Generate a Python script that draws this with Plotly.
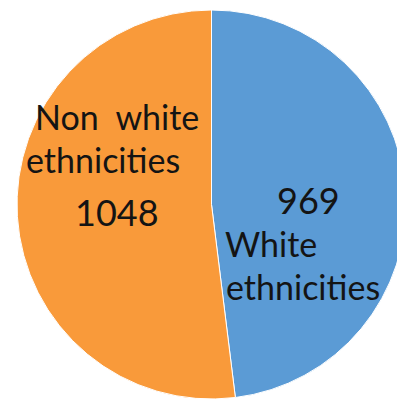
import plotly.graph_objects as go

# Data (plotly places the first slice clockwise from 12 o'clock)
labels = ["White ethnicities", "Non white ethnicities"]
values = [969, 1048]
colors = ["#5B9BD5", "#F99A3A"]

# Figure geometry (pixels)
W, H = 406, 399
ML, MR, MT, MB = 17, 0, 10, 0
PW, PH = W - ML - MR, H - MT - MB


def px(x):
    return (x - ML) / PW


def py(y):
    return (H - MB - y) / PH


fig = go.Figure(
    go.Pie(
        labels=labels,
        values=values,
        sort=False,
        direction="clockwise",
        rotation=0,
        marker=dict(colors=colors, line=dict(color="white", width=1)),
        textinfo="none",
        hoverinfo="label+value",
        showlegend=False,
    )
)

FONT = "Lato"
txt = dict(family=FONT, size=34, color="#141414")
num = dict(family=FONT, size=36, color="#141414")

# (text, x, y, xanchor, font) in pixels
ann = [
    ("Non\u00a0 white", 117, 116, "center", txt),
    ("ethnicities", 103, 159, "center", txt),
    (str(values[1]), 117, 212, "center", num),
    (str(values[0]), 308, 200, "center", num),
    ("White", 223, 243, "left", txt),
    ("ethnicities", 224, 286, "left", txt),
]
for t, x, y, xa, f in ann:
    fig.add_annotation(
        text=t, x=px(x), y=py(y), xref="paper", yref="paper",
        xanchor=xa, yanchor="middle", showarrow=False, font=f,
    )

fig.update_layout(
    width=W, height=H,
    margin=dict(l=ML, r=MR, t=MT, b=MB, pad=0),
    paper_bgcolor="white", plot_bgcolor="white",
)

fig.write_html(
    "out.html",
    config={"displayModeBar": False},
    post_script="document.body.style.margin='0';document.body.style.overflow='hidden';",
)
